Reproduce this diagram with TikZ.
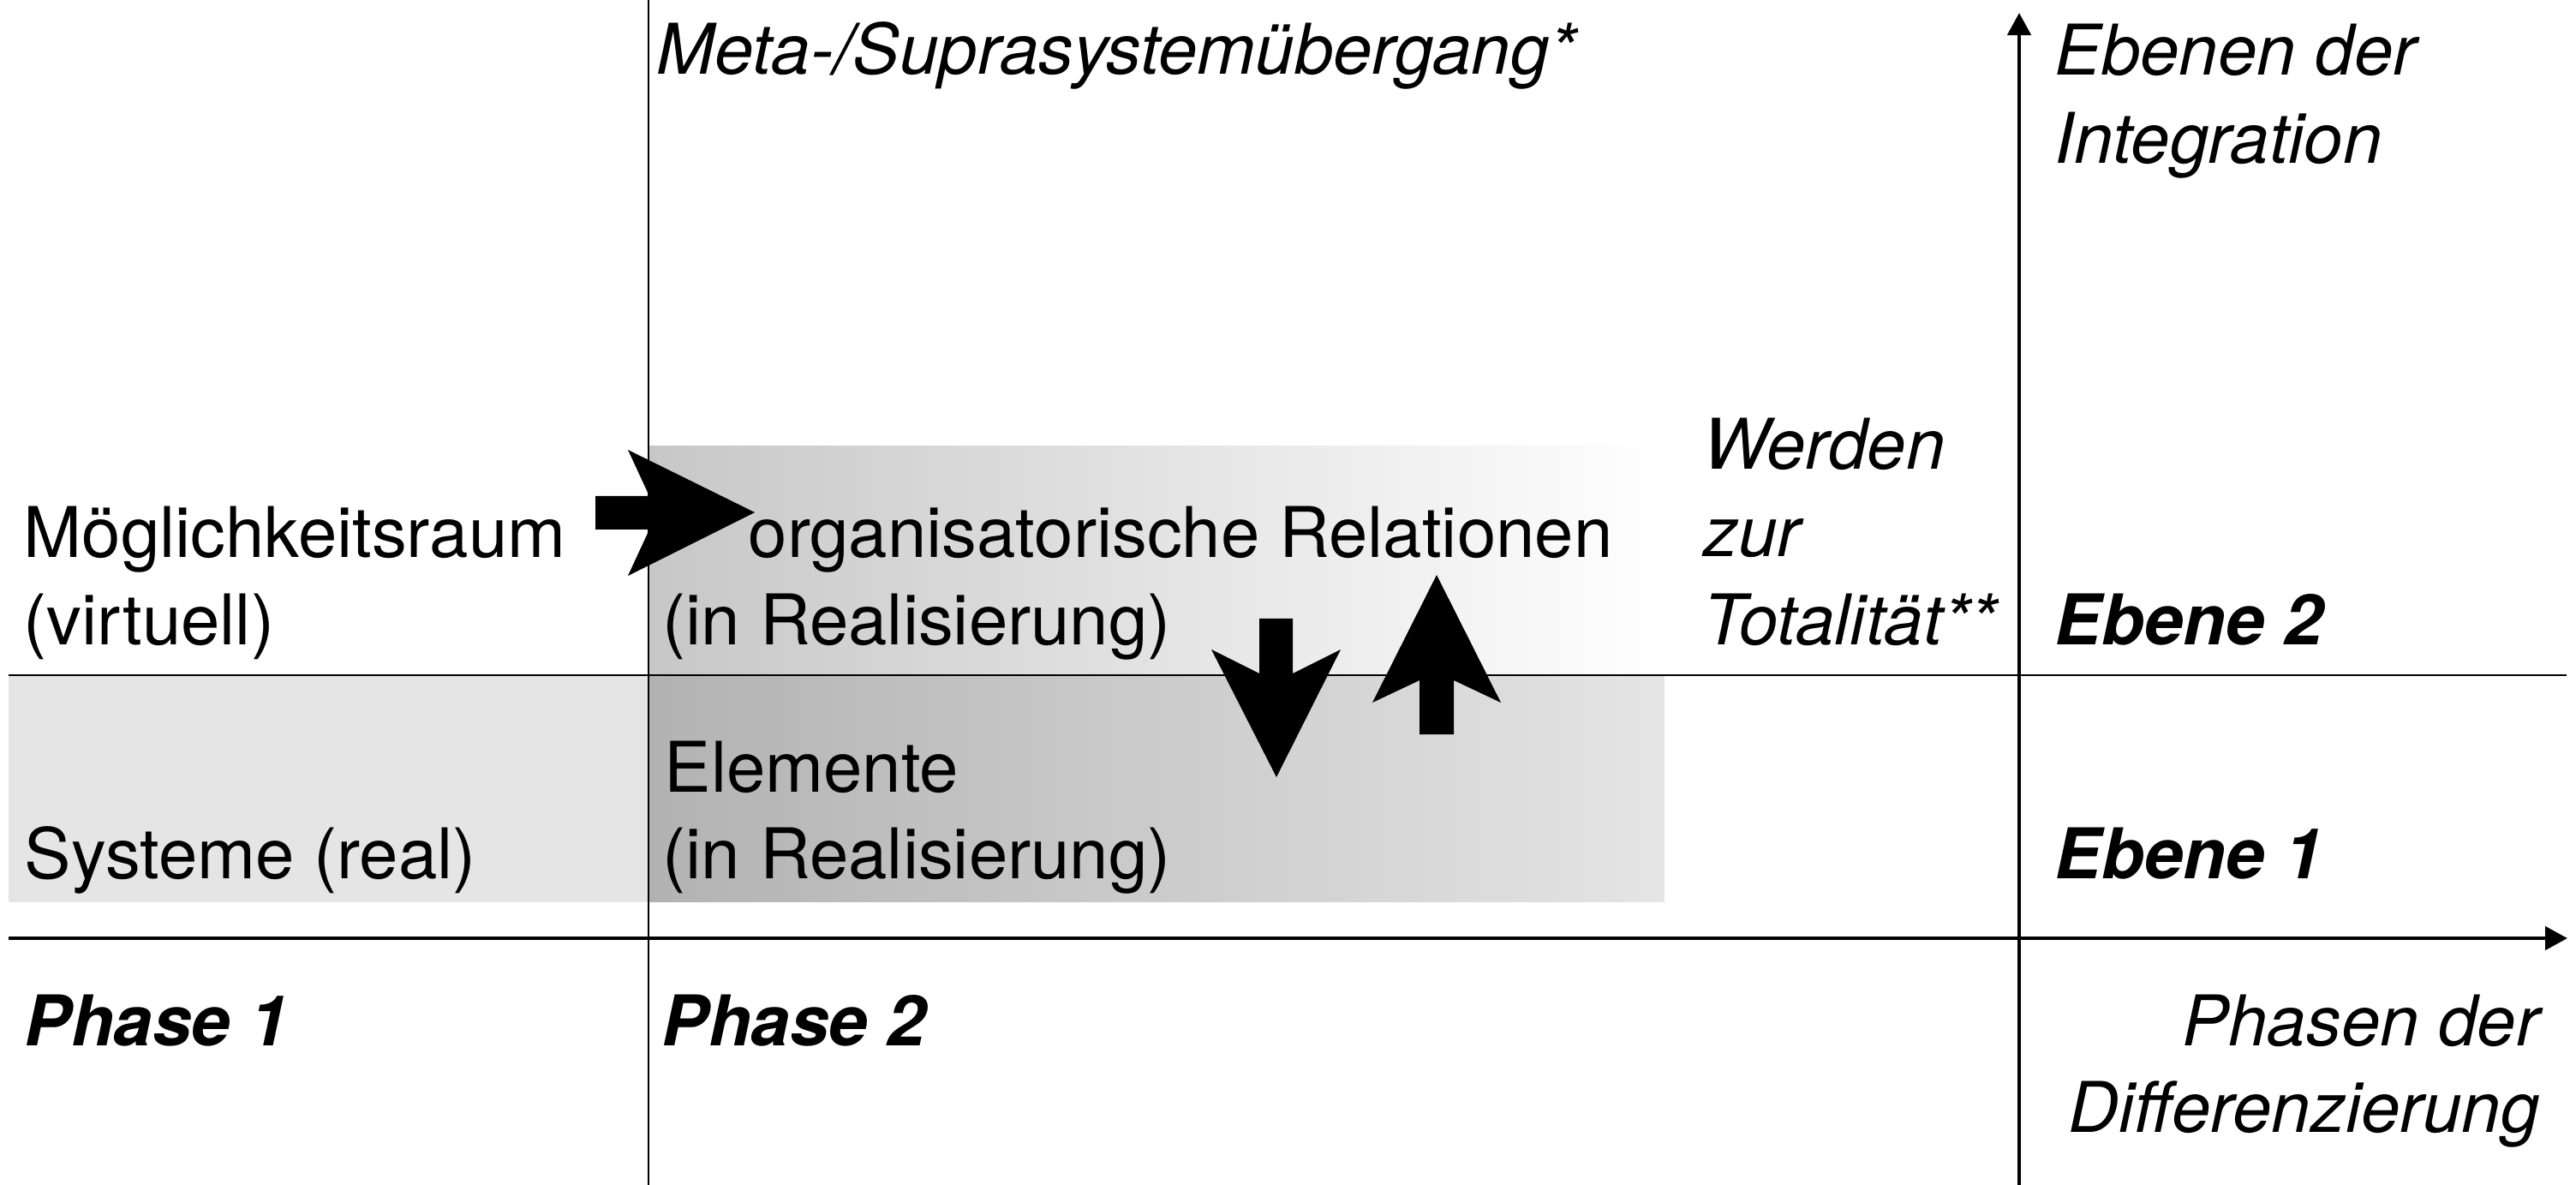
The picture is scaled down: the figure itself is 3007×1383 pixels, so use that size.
\documentclass[tikz,border=0pt]{standalone}
\usepackage{fontspec}
\setmainfont{TeX Gyre Heros}
\usetikzlibrary{arrows.meta,fadings}
\tikzfading[name=fadeoutright, left color=transparent!0, right color=transparent!100]
\definecolor{lightbox}{RGB}{229,229,229}
\begin{document}
\begin{tikzpicture}[x=0.01cm,y=-0.01cm,
  txt/.style={inner sep=0pt, anchor=base west, font=\fontsize{23.2}{28}\selectfont},
  itxt/.style={txt, font=\fontsize{23.2}{28}\selectfont\itshape},
  btxt/.style={txt, font=\fontsize{23.2}{28}\selectfont\bfseries\itshape},
  thinline/.style={line width=0.027cm},
  axisline/.style={line width=0.046cm, -{Triangle[length=0.26cm,width=0.27cm]}},
  blockarrow/.style={fill=black}]
\useasboundingbox (0,0) rectangle (3007,1383);
% backgrounds
\fill[lightbox] (10,788) rectangle (1943,1053);
\fill[black, fill opacity=0.22, path fading=fadeoutright] (757,520) rectangle (1943,1053);
% grid lines
\coordinate (vtop) at (757,0);
\coordinate (vbot) at (757,1383);
\coordinate (hl) at (10,788);
\coordinate (hr) at (2996,788);
\coordinate (axl) at (10,1095);
\coordinate (axr) at (2997,1095);
\coordinate (ayb) at (2357,1383);
\coordinate (ayt) at (2357,15);
\draw[thinline] (vtop) -- (vbot);
\draw[thinline] (hl) -- (hr);
\draw[axisline] (axl) -- (axr);
\draw[axisline] (ayb) -- (ayt);
% block arrows
\fill[blockarrow] (695,579) -- (758,579) -- (733,525) -- (881,598) -- (733,672) -- (758,618) -- (695,618) -- cycle;
\fill[blockarrow] (1470,722) -- (1509,722) -- (1509,786) -- (1565,758) -- (1490,907) -- (1414,758) -- (1470,786) -- cycle;
\fill[blockarrow] (1657,857) -- (1697,857) -- (1697,794) -- (1752,820) -- (1677,671) -- (1602,820) -- (1657,794) -- cycle;
% texts
\node[itxt] (meta) at (766,87) {Meta-/Suprasystemübergang*};
\node[itxt] (ebenen1) at (2398,88) {Ebenen der};
\node[itxt] (ebenen2) at (2398,191) {Integration};
\node[itxt] (werden1) at (1988,548) {Werden};
\node[itxt] (werden2) at (1988,650) {zur};
\node[itxt] (werden3) at (1988,752) {Totalität**};
\node[txt] (moegl1) at (27,651) {Möglichkeitsraum};
\node[txt] (moegl2) at (27,752) {(virtuell)};
\node[txt] (orga1) at (873,651) {organisatorische Relationen};
\node[txt] (orga2) at (773,752) {(in Realisierung)};
\node[btxt] (eb2) at (2398,752) {Ebene 2};
\node[txt] (elem1) at (775,924) {Elemente};
\node[txt] (elem2) at (773,1025) {(in Realisierung)};
\node[txt] (sys) at (28,1025) {Systeme (real)};
\node[btxt] (eb1) at (2398,1025) {Ebene 1};
\node[btxt] (ph1) at (28,1220) {Phase 1};
\node[btxt] (ph2) at (772,1220) {Phase 2};
\node[itxt, anchor=base east] (phasen1) at (2965,1220) {Phasen der};
\node[itxt, anchor=base east] (phasen2) at (2965,1321) {Differenzierung};
\end{tikzpicture}
\end{document}
